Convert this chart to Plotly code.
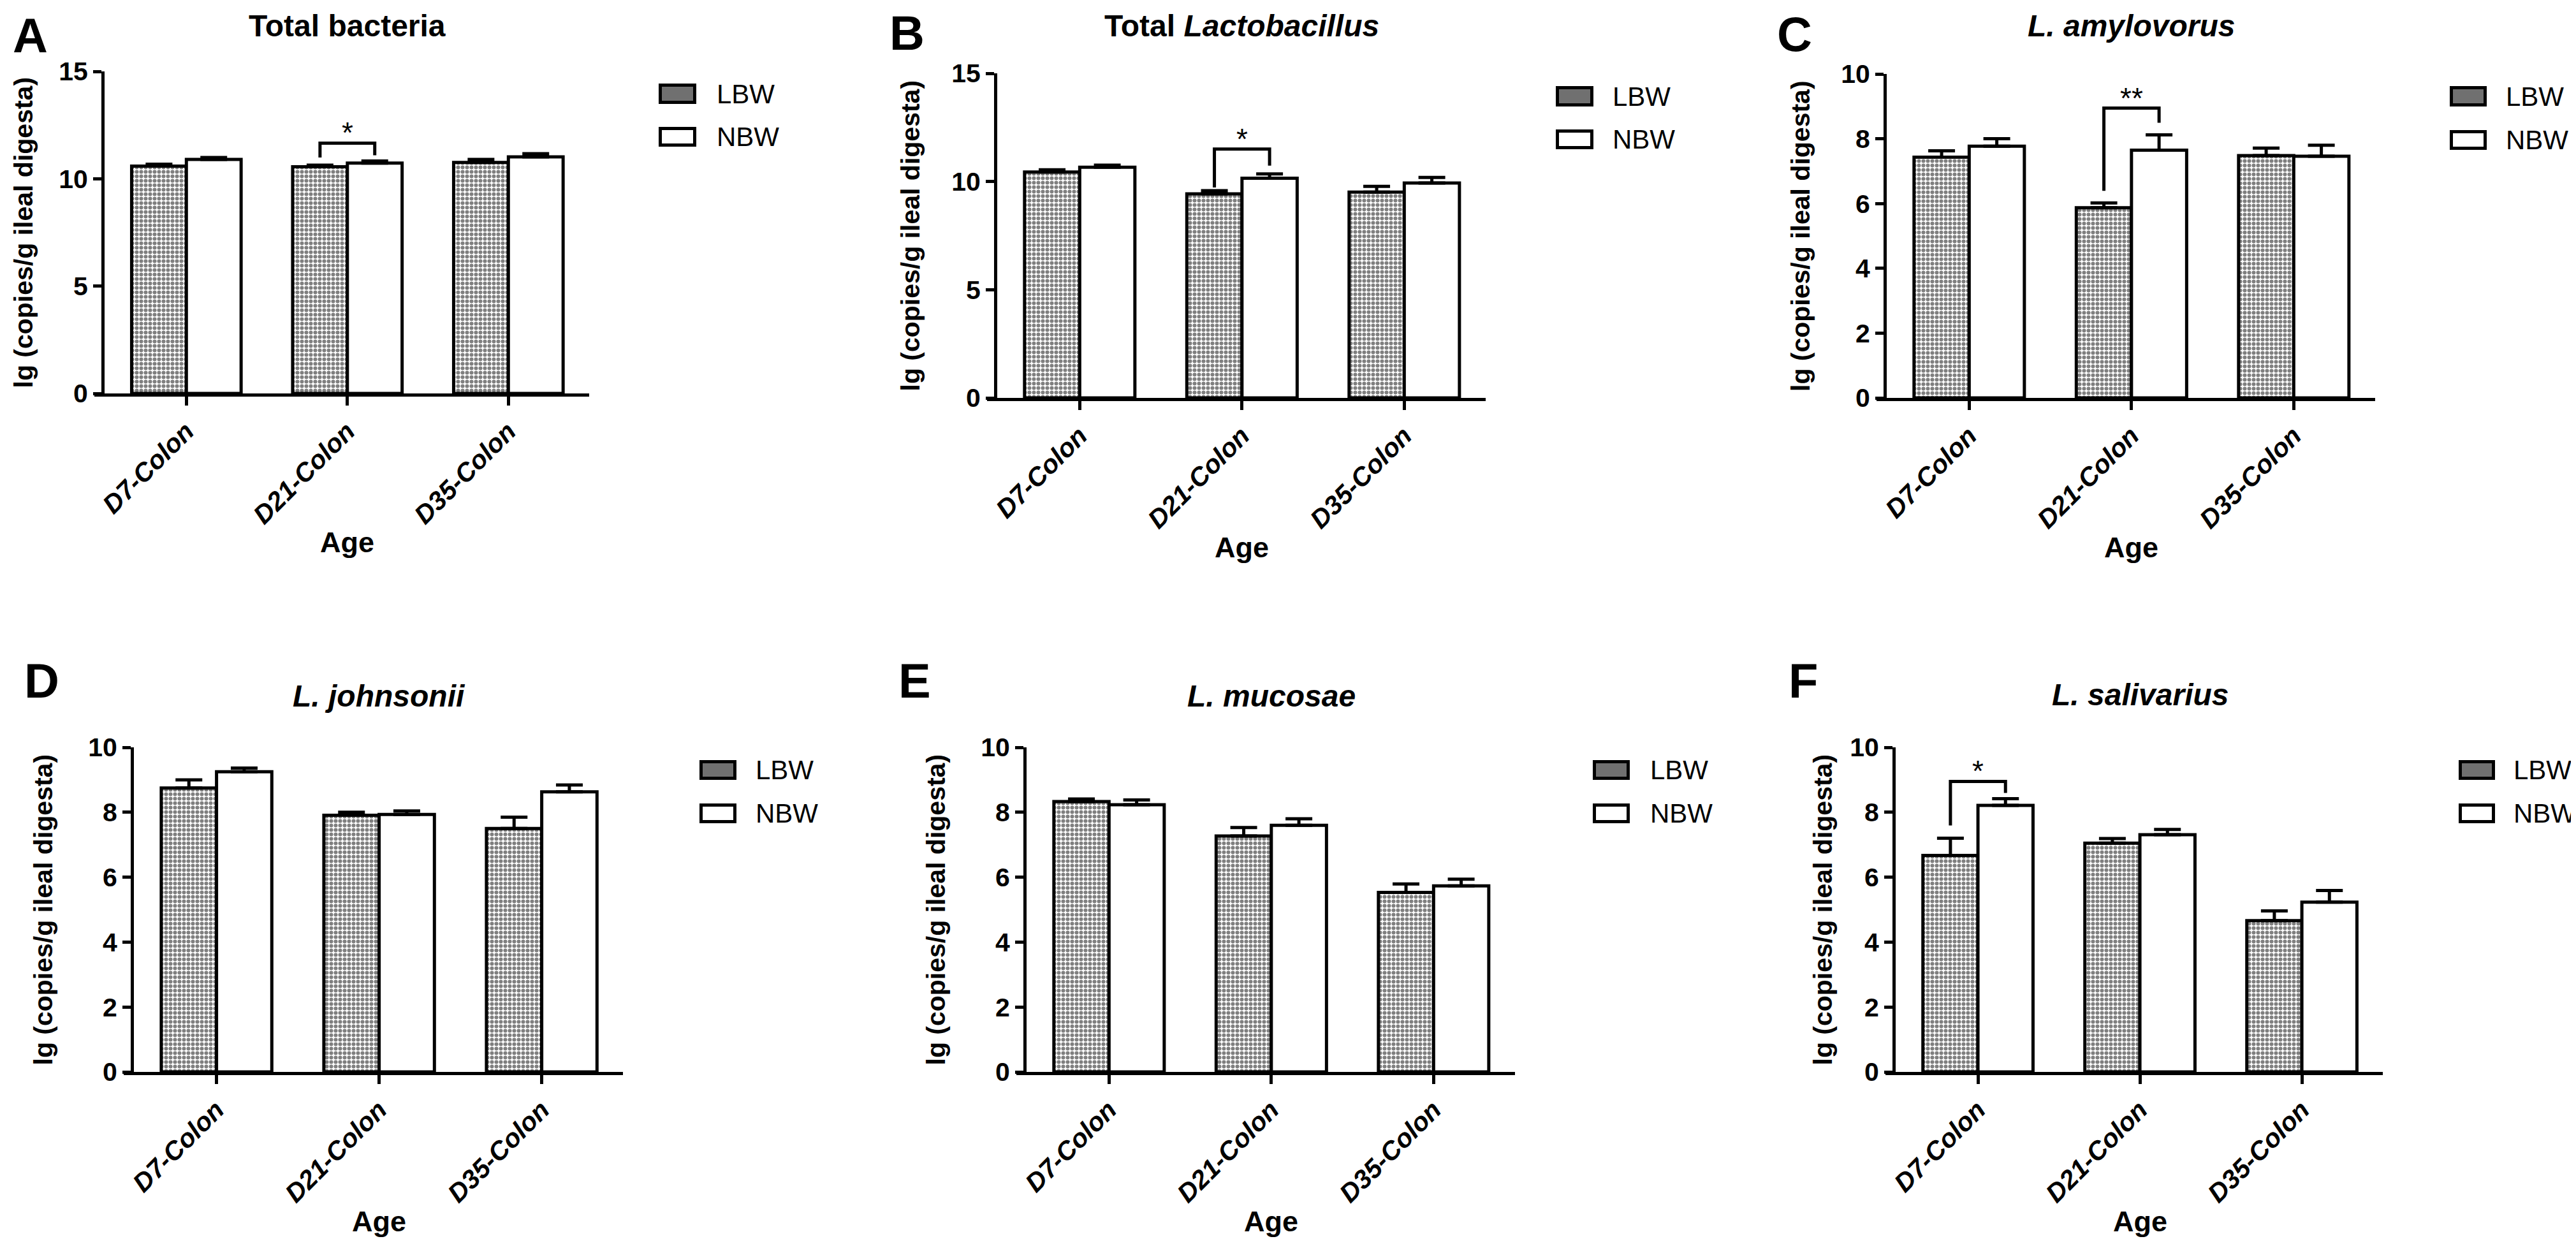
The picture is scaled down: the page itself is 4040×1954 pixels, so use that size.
import plotly.graph_objects as go

W, H = 4040, 1954

# ---------------- data ----------------
categories = ["D7-Colon", "D21-Colon", "D35-Colon"]
group_names = ["LBW", "NBW"]
panel_ids = ["A", "B", "C", "D", "E", "F"]
panel_titles = ["Total bacteria", "Total <i>Lactobacillus</i>", "<i>L. amylovorus</i>",
                "<i>L. johnsonii</i>", "<i>L. mucosae</i>", "<i>L. salivarius</i>"]
y_axis_title = "lg (copies/g ileal digesta)"
x_axis_title = "Age"
y_max = [15, 15, 10, 10, 10, 10]
y_dtick = [5, 5, 2, 2, 2, 2]

A_lbw = [10.59, 10.56, 10.76]
A_lbw_sem = [0.09, 0.07, 0.14]
A_nbw = [10.90, 10.73, 11.02]
A_nbw_sem = [0.09, 0.10, 0.15]

B_lbw = [10.44, 9.43, 9.51]
B_lbw_sem = [0.10, 0.15, 0.27]
B_nbw = [10.66, 10.15, 9.93]
B_nbw_sem = [0.10, 0.20, 0.26]

C_lbw = [7.43, 5.87, 7.48]
C_lbw_sem = [0.20, 0.15, 0.23]
C_nbw = [7.77, 7.65, 7.46]
C_nbw_sem = [0.23, 0.47, 0.34]

D_lbw = [8.75, 7.91, 7.50]
D_lbw_sem = [0.25, 0.09, 0.35]
D_nbw = [9.25, 7.93, 8.63]
D_nbw_sem = [0.11, 0.11, 0.21]

E_lbw = [8.33, 7.27, 5.53]
E_lbw_sem = [0.08, 0.26, 0.26]
E_nbw = [8.23, 7.60, 5.73]
E_nbw_sem = [0.15, 0.20, 0.21]

F_lbw = [6.67, 7.05, 4.66]
F_lbw_sem = [0.53, 0.14, 0.30]
F_nbw = [8.21, 7.31, 5.23]
F_nbw_sem = [0.21, 0.16, 0.36]

lbw = [A_lbw, B_lbw, C_lbw, D_lbw, E_lbw, F_lbw]
lbw_sem = [A_lbw_sem, B_lbw_sem, C_lbw_sem, D_lbw_sem, E_lbw_sem, F_lbw_sem]
nbw = [A_nbw, B_nbw, C_nbw, D_nbw, E_nbw, F_nbw]
nbw_sem = [A_nbw_sem, B_nbw_sem, C_nbw_sem, D_nbw_sem, E_nbw_sem, F_nbw_sem]

# significance: (panel, category index, label)
significance = [("A", 1, "*"), ("B", 1, "*"), ("C", 1, "**"), ("F", 0, "*")]

# ---------------- layout geometry (screen pixels) ----------------
geom = {
    "A": dict(yx=161, top=112, bot=617, sp=252.5),
    "B": dict(yx=1561, top=115, bot=624, sp=254.5),
    "C": dict(yx=2956, top=116, bot=624, sp=254.5),
    "D": dict(yx=207, top=1172, bot=1681, sp=255),
    "E": dict(yx=1607, top=1172, bot=1681, sp=254.5),
    "F": dict(yx=2970, top=1172, bot=1681, sp=254),
}
left_units = 0.52
right_units = 2.5
x_ext = 13  # x-axis line extends left of y-axis
legend_geom = {
    "A": (1033, 1092, 131, 163, 199, 230, 1122),
    "B": (2440, 2499, 135, 167, 203, 234, 2527),
    "C": (3842, 3900, 135, 167, 204, 235, 3928),
    "D": (1097, 1155, 1192, 1223, 1260, 1291, 1183),
    "E": (2498, 2556, 1192, 1223, 1260, 1291, 2586),
    "F": (3856, 3913, 1192, 1223, 1260, 1291, 3940),
}
ytitle_x = {"A": 36, "B": 1427, "C": 2824, "D": 67, "E": 1467, "F": 2858}
title_y = {"A": 40, "B": 40, "C": 40, "D": 1091, "E": 1091, "F": 1089}
letter_pos = {"A": (18, 56), "B": (1393, 52), "C": (2785, 53),
              "D": (36, 1067), "E": (1407, 1067), "F": (2803, 1067)}
age_y = {"A": 850, "B": 858, "C": 858, "D": 1915, "E": 1915, "F": 1915}
bracket_pad = {"A": (28, 12, 9), "B": (39, 5, 13), "C": (42, 19, 19), "F": (27, 20, 9)}

PAGE_OFFSET = 8  # default page margin around the figure
BARGAP = 0.32
LW = 5
FONT = "Liberation Sans, Arial, sans-serif"

fig = go.Figure()
annotations = []
shapes = []


def px_x(p):
    return (p - PAGE_OFFSET) / W


def px_y(p):
    return 1 - (p - PAGE_OFFSET) / H


for k, pid in enumerate(panel_ids):
    g = geom[pid]
    n = "" if k == 0 else str(k + 1)
    xa, ya = "x" + n, "y" + n
    x0 = g["yx"] - x_ext
    x1 = g["yx"] + (left_units + right_units) * g["sp"]
    xr0 = -left_units - x_ext / g["sp"]

    fig.add_trace(go.Bar(
        x=categories, y=lbw[k], name=group_names[0], xaxis=xa, yaxis=ya,
        marker=dict(color="white", line=dict(color="black", width=LW),
                    pattern=dict(shape=".", fgcolor="black", bgcolor="white",
                                 size=7, solidity=0.58)),
        error_y=dict(type="data", array=lbw_sem[k], arrayminus=[0] * len(categories),
                     symmetric=False, color="black", thickness=LW, width=21),
        showlegend=False))
    fig.add_trace(go.Bar(
        x=categories, y=nbw[k], name=group_names[1], xaxis=xa, yaxis=ya,
        marker=dict(color="white", line=dict(color="black", width=LW)),
        error_y=dict(type="data", array=nbw_sem[k], arrayminus=[0] * len(categories),
                     symmetric=False, color="black", thickness=LW, width=21),
        showlegend=False))

    fig.layout["xaxis" + n] = dict(
        domain=[px_x(x0), px_x(x1)], anchor=ya, type="category", automargin=False,
        categoryorder="array", categoryarray=categories,
        range=[xr0, right_units], showline=True, linecolor="black", linewidth=LW,
        ticks="outside", ticklen=14, tickwidth=LW, tickcolor="black",
        tickangle=-45, showgrid=False, zeroline=False,
        tickfont=dict(family=FONT, size=41, color="black", weight="bold", style="italic"),
    )
    fig.layout["yaxis" + n] = dict(
        domain=[px_y(g["bot"]), px_y(g["top"])], anchor="free", position=px_x(g["yx"]),
        automargin=False,
        range=[0, y_max[k]], dtick=y_dtick[k], tick0=0,
        showline=True, linecolor="black", linewidth=LW,
        ticks="outside", ticklen=13, tickwidth=LW, tickcolor="black",
        showgrid=False, zeroline=False,
        tickfont=dict(family=FONT, size=41, color="black", weight="bold"),
    )

    mid_y = px_y((g["top"] + g["bot"]) / 2)
    annotations.append(dict(text=y_axis_title, xref="paper", yref="paper",
                            x=px_x(ytitle_x[pid]), y=mid_y, textangle=-90,
                            showarrow=False, xanchor="center", yanchor="middle",
                            font=dict(family=FONT, size=41, color="black", weight="bold")))
    center_x = g["yx"] + (left_units + 1) * g["sp"]
    annotations.append(dict(text=x_axis_title, xref="paper", yref="paper",
                            x=px_x(center_x), y=px_y(age_y[pid]), showarrow=False,
                            xanchor="center", yanchor="middle",
                            font=dict(family=FONT, size=45, color="black", weight="bold")))
    annotations.append(dict(text=panel_titles[k], xref="paper", yref="paper",
                            x=px_x(center_x), y=px_y(title_y[pid]), showarrow=False,
                            xanchor="center", yanchor="middle",
                            font=dict(family=FONT, size=48, color="black", weight="bold")))
    lx, ly = letter_pos[pid]
    annotations.append(dict(text=pid, xref="paper", yref="paper",
                            x=px_x(lx), y=px_y(ly), showarrow=False,
                            xanchor="left", yanchor="middle",
                            font=dict(family=FONT, size=76, color="black", weight="bold")))
    bl, br, t1, b1, t2, b2, tx = legend_geom[pid]
    h = LW / 2
    shapes.append(dict(type="rect", xref="paper", yref="paper",
                       x0=px_x(bl + h), x1=px_x(br - h), y0=px_y(b1 - h), y1=px_y(t1 + h),
                       line=dict(color="black", width=LW), fillcolor="#707070"))
    shapes.append(dict(type="rect", xref="paper", yref="paper",
                       x0=px_x(bl + h), x1=px_x(br - h), y0=px_y(b2 - h), y1=px_y(t2 + h),
                       line=dict(color="black", width=LW), fillcolor="white"))
    for name, tt, bb in ((group_names[0], t1, b1), (group_names[1], t2, b2)):
        annotations.append(dict(text=name, xref="paper", yref="paper",
                                x=px_x(tx), y=px_y((tt + bb) / 2), showarrow=False,
                                xanchor="left", yanchor="middle",
                                font=dict(family=FONT, size=42, color="black")))

off = (1 - BARGAP) / 4
for pid, ci, label in significance:
    k = panel_ids.index(pid)
    g = geom[pid]
    n = "" if k == 0 else str(k + 1)
    ppu = (g["bot"] - g["top"]) / y_max[k]
    lt = lbw[k][ci] + lbw_sem[k][ci]
    nt = nbw[k][ci] + nbw_sem[k][ci]
    pt, pl, pr = bracket_pad[pid]
    ytop = max(lt, nt) + pt / ppu
    shapes.append(dict(type="path", xref="x" + n, yref="y" + n,
                       path=f"M {ci - off},{lt + pl / ppu} L {ci - off},{ytop} "
                            f"L {ci + off},{ytop} L {ci + off},{nt + pr / ppu}",
                       line=dict(color="black", width=LW)))
    annotations.append(dict(text=label, xref="x" + n, yref="y" + n, x=ci, y=ytop,
                            showarrow=False, xanchor="center", yanchor="bottom", yshift=-12,
                            font=dict(family=FONT, size=46, color="black")))

fig.update_layout(
    width=W, height=H, margin=dict(l=0, r=0, t=0, b=0, autoexpand=False),
    paper_bgcolor="white", plot_bgcolor="white",
    barmode="group", bargap=BARGAP, bargroupgap=0,
    showlegend=False, annotations=annotations, shapes=shapes,
)

fig.write_html("out.html")
